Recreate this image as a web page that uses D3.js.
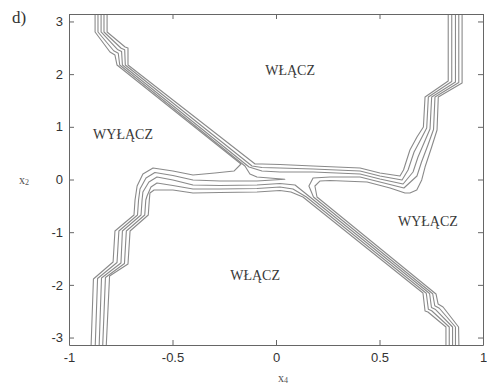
<!DOCTYPE html>
<html>
<head>
<meta charset="utf-8">
<script src="https://cdn.jsdelivr.net/npm/d3@7"></script>
<style>
  html, body { margin: 0; padding: 0; background: #fff; }
  svg { display: block; }
</style>
</head>
<body>
<svg id="chart" width="487" height="387"></svg>
<script>
// Axis ticks
const xTicks = [-1, -0.5, 0, 0.5, 1];
const xTickLabels = ["-1", "-0.5", "0", "0.5", "1"];
const yTicks = [-3, -2, -1, 0, 1, 2, 3];
const yTickLabels = ["-3", "-2", "-1", "0", "1", "2", "3"];

// Switching-curve contour levels, [x4, x2] pairs.
// Levels starting at the bottom-left edge
const curveL0 = [[-0.894,-3.237],[-0.882,-1.889],[-0.787,-1.566],[-0.778,-0.978],[-0.686,-0.674],[-0.681,-0.389],[-0.671,-0.123],[-0.643,0.104],[-0.594,0.218],[-0.498,0.161],[-0.401,0.085],[-0.295,0.123],[-0.203,0.161],[-0.169,0.294],[-0.768,2.173],[-0.778,2.363],[-0.802,2.420],[-0.874,2.800],[-0.874,3.218]];
const curveL1 = [[-0.874,-3.237],[-0.862,-1.879],[-0.768,-1.576],[-0.759,-0.978],[-0.669,-0.674],[-0.664,-0.389],[-0.657,-0.180],[-0.628,0.028],[-0.585,0.133],[-0.498,0.076],[-0.401,-0.009],[-0.271,-0.028],[-0.092,-0.028],[0.043,0.004],[-0.092,0.047],[-0.126,0.104],[-0.150,0.256],[-0.755,2.173],[-0.762,2.397],[-0.784,2.444],[-0.860,2.800],[-0.860,3.218]];
const curveL2 = [[-0.855,-3.237],[-0.843,-1.870],[-0.749,-1.585],[-0.742,-0.978],[-0.652,-0.674],[-0.647,-0.389],[-0.643,-0.237],[-0.614,-0.047],[-0.575,0.047],[-0.498,-0.009],[-0.401,-0.104],[-0.271,-0.114],[-0.092,-0.104],[0.019,-0.076],[0.092,-0.104],[0.164,-0.332],[0.742,-2.164],[0.751,-2.430],[0.771,-2.468],[0.853,-2.800],[0.853,-3.237]];
const curveL3 = [[-0.838,-3.237],[-0.824,-1.860],[-0.732,-1.595],[-0.723,-0.978],[-0.634,-0.674],[-0.629,-0.389],[-0.623,-0.313],[-0.604,-0.142],[-0.575,-0.066],[-0.498,-0.114],[-0.401,-0.180],[-0.271,-0.180],[-0.092,-0.171],[0.019,-0.142],[0.082,-0.180],[0.147,-0.332],[0.726,-2.159],[0.736,-2.463],[0.752,-2.491],[0.837,-2.800],[0.837,-3.237]];
const curveL4 = [[-0.821,-3.237],[-0.804,-1.832],[-0.715,-1.604],[-0.705,-0.978],[-0.617,-0.674],[-0.612,-0.389],[-0.609,-0.256],[-0.589,-0.199],[-0.498,-0.199],[-0.401,-0.256],[-0.271,-0.247],[-0.092,-0.237],[0.019,-0.209],[0.072,-0.237],[0.130,-0.332],[0.710,-2.155],[0.720,-2.496],[0.734,-2.515],[0.821,-2.800],[0.821,-3.237]];

// Levels starting at the top-right edge
const curveR0 = [[0.899,3.218],[0.899,1.832],[0.784,1.566],[0.778,0.940],[0.752,0.617],[0.720,0.237],[0.704,-0.009],[0.680,-0.199],[0.647,-0.256],[0.623,-0.256],[0.551,-0.161],[0.440,-0.047],[0.261,-0.019],[0.213,-0.028],[0.188,-0.123],[0.198,-0.332],[0.773,-2.173],[0.783,-2.363],[0.807,-2.420],[0.882,-2.800],[0.884,-3.237]];
const curveR1 = [[0.883,3.218],[0.883,1.841],[0.768,1.566],[0.761,0.949],[0.734,0.655],[0.703,0.332],[0.681,0.066],[0.618,-0.161],[0.502,-0.047],[0.406,0.047],[0.261,0.047],[0.179,0.028],[0.159,-0.123],[0.181,-0.332],[0.757,-2.169],[0.767,-2.397],[0.789,-2.444],[0.867,-2.800],[0.867,-3.237]];
const curveR2 = [[0.867,3.218],[0.867,1.851],[0.752,1.566],[0.744,0.959],[0.715,0.693],[0.686,0.427],[0.662,0.142],[0.614,-0.085],[0.502,0.009],[0.406,0.104],[0.179,0.142],[0.019,0.142],[-0.068,0.161],[-0.130,0.237],[-0.742,2.173],[-0.746,2.430],[-0.766,2.468],[-0.845,2.800],[-0.845,3.218]];
const curveR3 = [[0.849,3.218],[0.849,1.860],[0.736,1.566],[0.728,0.978],[0.698,0.750],[0.667,0.522],[0.638,0.180],[0.609,-0.009],[0.502,0.066],[0.406,0.161],[0.179,0.199],[0.019,0.218],[-0.068,0.228],[-0.116,0.256],[-0.728,2.173],[-0.731,2.463],[-0.748,2.491],[-0.831,2.800],[-0.831,3.218]];
const curveR4 = [[0.832,3.218],[0.832,1.870],[0.720,1.566],[0.712,0.997],[0.681,0.807],[0.647,0.560],[0.616,0.180],[0.599,0.066],[0.502,0.123],[0.406,0.218],[0.179,0.256],[0.019,0.285],[-0.068,0.294],[-0.101,0.294],[-0.715,2.173],[-0.715,2.496],[-0.729,2.515],[-0.816,2.800],[-0.816,3.218]];

// Region names and where they sit (data coordinates, text baseline)
const regionNames = ["WŁĄCZ", "WYŁĄCZ", "WYŁĄCZ", "WŁĄCZ"];
const regionX = [0.068, -0.739, 0.734, -0.101];
const regionY = [1.993, 0.769, -0.892, -1.917];

const curves = [curveL0, curveL1, curveL2, curveL3, curveL4,
                curveR0, curveR1, curveR2, curveR3, curveR4];

const svg = d3.select("#chart");
const plot = { left: 69, right: 483, top: 14, bottom: 345 };

const x = d3.scaleLinear().domain([-1, 1]).range([plot.left, plot.right]);
const y = d3.scaleLinear().domain([-Math.PI, Math.PI]).range([plot.bottom, plot.top]);

svg.append("rect").attr("width", 487).attr("height", 387).attr("fill", "#fff");

svg.append("defs").append("clipPath").attr("id", "plot-clip")
  .append("rect")
  .attr("x", plot.left).attr("y", plot.top)
  .attr("width", plot.right - plot.left).attr("height", plot.bottom - plot.top);

// Contour lines
const line = d3.line().x(d => x(d[0])).y(d => y(d[1]));
svg.append("g").attr("clip-path", "url(#plot-clip)")
  .selectAll("path").data(curves).join("path")
  .attr("d", line)
  .attr("fill", "none")
  .attr("stroke", "#8a8a8a")
  .attr("stroke-width", 1.1)
  .attr("stroke-linejoin", "round");

// Axes: inward ticks on all four sides
const axisColor = "#666";
function styleAxis(g) {
  g.selectAll(".domain").attr("stroke", axisColor).attr("stroke-width", 1);
  g.selectAll(".tick line").attr("stroke", axisColor);
  g.selectAll(".tick text")
    .attr("fill", "#333")
    .attr("font-family", "'Liberation Sans', Arial, sans-serif")
    .attr("font-size", 13);
}

svg.append("g").attr("transform", `translate(0,${plot.bottom})`)
  .call(d3.axisBottom(x).tickValues(xTicks)
    .tickFormat((d, i) => xTickLabels[i])
    .tickSize(-5).tickSizeOuter(0).tickPadding(8))
  .call(styleAxis);

svg.append("g").attr("transform", `translate(0,${plot.top})`)
  .call(d3.axisTop(x).tickValues(xTicks).tickFormat("")
    .tickSize(-5).tickSizeOuter(0))
  .call(styleAxis);

svg.append("g").attr("transform", `translate(${plot.left},0)`)
  .call(d3.axisLeft(y).tickValues(yTicks)
    .tickFormat((d, i) => yTickLabels[i])
    .tickSize(-5).tickSizeOuter(0).tickPadding(6))
  .call(styleAxis);

svg.append("g").attr("transform", `translate(${plot.right},0)`)
  .call(d3.axisRight(y).tickValues(yTicks).tickFormat("")
    .tickSize(-5).tickSizeOuter(0))
  .call(styleAxis);

// Region names
const serif = "'Liberation Serif', 'Times New Roman', serif";
svg.append("g").selectAll("text").data(regionNames).join("text")
  .attr("x", (d, i) => x(regionX[i]))
  .attr("y", (d, i) => y(regionY[i]))
  .attr("text-anchor", "middle")
  .attr("font-family", serif)
  .attr("font-size", 14)
  .attr("fill", "#383838")
  .text(d => d);

// Axis titles
const yTitle = svg.append("text")
  .attr("x", 19).attr("y", 184)
  .attr("font-family", serif).attr("font-size", 12).attr("fill", "#555");
yTitle.append("tspan").text("x");
yTitle.append("tspan").attr("font-size", 8).attr("dy", 1).text("2");

const xTitle = svg.append("text")
  .attr("x", 278).attr("y", 382)
  .attr("font-family", serif).attr("font-size", 12).attr("fill", "#555");
xTitle.append("tspan").text("x");
xTitle.append("tspan").attr("font-size", 8).attr("dy", 1).text("4");

// Panel tag
svg.append("text")
  .attr("x", 12).attr("y", 23)
  .attr("font-family", serif).attr("font-size", 17).attr("fill", "#333")
  .text("d)");
</script>
</body>
</html>
